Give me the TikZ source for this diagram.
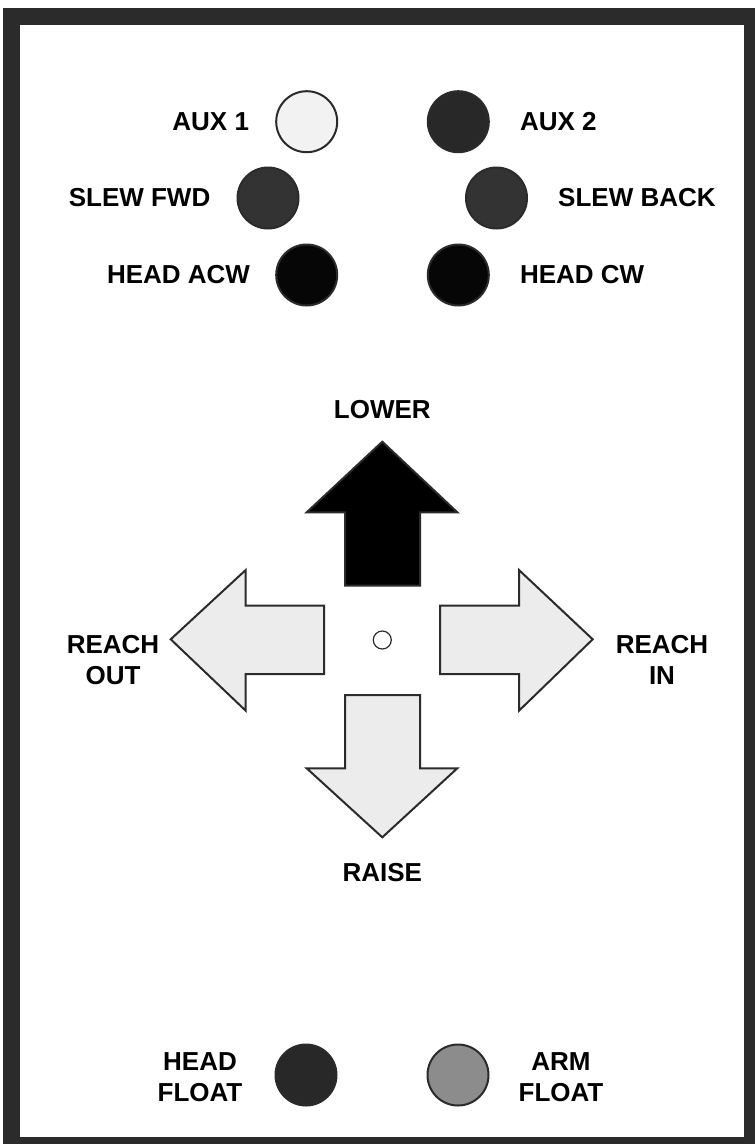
\documentclass[tikz,border=0pt]{standalone}
\usepackage{fontspec}
\setmainfont{Liberation Sans}
\usetikzlibrary{positioning}

\definecolor{frame}{HTML}{2B2B2B}
\definecolor{lamplight}{HTML}{F2F2F2}
\definecolor{lampdark}{HTML}{282828}
\definecolor{lampslew}{HTML}{333333}
\definecolor{lampblack}{HTML}{060606}
\definecolor{lampgrey}{HTML}{8C8C8C}
\definecolor{arrowfill}{HTML}{ECECEC}

\tikzset{
 lamp/.style={circle,draw=frame,line width=2pt,minimum size=61pt,inner sep=0pt},
 lbl/.style={font=\fontsize{26}{30}\selectfont\bfseries,inner sep=0pt,text=black},
 lbltwo/.style={lbl,align=center,font=\fontsize{26}{31}\selectfont\bfseries},
 arr/.style={draw=frame,line width=2pt,line join=miter,fill=arrowfill}
}

\begin{document}
\begin{tikzpicture}[x=1pt,y=-1pt]
 \useasboundingbox (0,0) rectangle (755,1144);
 \fill[white] (0,0) rectangle (755,1144);
 \fill[frame] (3,8) rectangle (760,1150);
 \fill[white] (20,25) rectangle (744,1137);

 % lamps
 \node[lamp,fill=lamplight] (aux1) at (306.7,121.7) {};
 \node[lamp,fill=lampdark] (aux2) at (458.3,121.7) {};
 \node[lamp,fill=lampslew] (slewfwd) at (268,198) {};
 \node[lamp,fill=lampslew] (slewback) at (496.5,198) {};
 \node[lamp,fill=lampblack] (headacw) at (306.7,275) {};
 \node[lamp,fill=lampblack] (headcw) at (458.3,275) {};
 \node[lamp,fill=lampdark] (headfloat) at (306,1075) {};
 \node[lamp,fill=lampgrey] (armfloat) at (458,1075) {};

 \node[lbl,left=26pt of aux1] (auxonelbl) {AUX 1};
 \node[lbl,right=30pt of aux2] (auxtwolbl) {AUX 2};
 \node[lbl,left=26pt of slewfwd] (slewfwdlbl) {SLEW FWD};
 \node[lbl,right=30pt of slewback] (slewbacklbl) {SLEW BACK};
 \node[lbl,left=25pt of headacw] (headacwlbl) {HEAD ACW};
 \node[lbl,right=30pt of headcw] (headcwlbl) {HEAD CW};
 \node[lbltwo] (headfloatlbl) at (200,1077) {HEAD\\FLOAT};
 \node[lbltwo] (armfloatlbl) at (561,1077) {ARM\\FLOAT};

 % joystick arrows
 \filldraw[arr,fill=black] (345,585.7) -- (345,512.3) -- (306.7,512.3) -- (382.3,441.7)
   -- (457.3,512.3) -- (420,512.3) -- (420,585.7) -- cycle;
 \filldraw[arr] (345,695) -- (345,768.3) -- (306.7,768.3) -- (382.3,837.3)
   -- (457.3,768.3) -- (420,768.3) -- (420,695) -- cycle;
 \filldraw[arr] (324,605.7) -- (245.7,605.7) -- (245.7,570) -- (170.7,639.3)
   -- (245.7,710.7) -- (245.7,674) -- (324,674) -- cycle;
 \filldraw[arr] (440,605.7) -- (519,605.7) -- (519,570) -- (592.7,639.3)
   -- (519,710.7) -- (519,674) -- (440,674) -- cycle;
 \node[circle,draw=frame,line width=1.2pt,fill=white,minimum size=18pt,inner sep=0pt] (centre) at (382.3,640) {};

 \node[lbl] (lower) at (382.3,410) {LOWER};
 \node[lbl] (raise) at (382.3,872.7) {RAISE};
 \node[lbltwo] (reachout) at (113,660) {REACH\\OUT};
 \node[lbltwo] (reachin) at (662,660) {REACH\\IN};
\end{tikzpicture}
\end{document}
